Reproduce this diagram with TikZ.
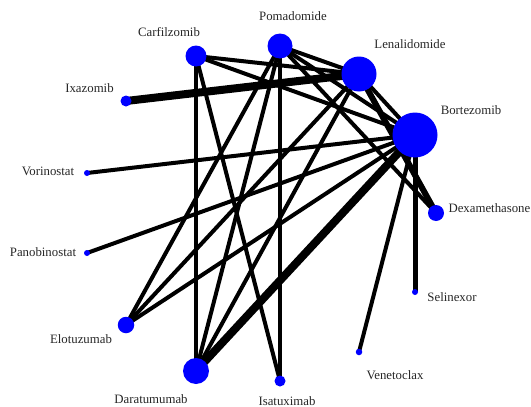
\documentclass[tikz,border=0pt]{standalone}
\usepackage{fontspec}
\setmainfont{Liberation Serif}
\usetikzlibrary{backgrounds}
\begin{document}
\begin{tikzpicture}[x=1pt,y=-1pt,
  drug/.style={circle,fill=blue,inner sep=0pt,minimum size=#1},
  lbl/.style={inner sep=0pt,text=black!85,font=\fontsize{12.8}{15}\selectfont},
  edge/.style={line width=4pt,black},
  thickedge/.style={line width=#1,black}]
\useasboundingbox (0,0) rectangle (531,407);
% nodes (diameters in px)
\node[drug=21pt] (car) at (196,56) {};
\node[drug=11pt] (ixa) at (126,101) {};
\node[drug=6pt]  (vor) at (87,173) {};
\node[drug=25pt] (pom) at (280,46) {};
\node[drug=35pt] (len) at (359,74) {};
\node[drug=45pt] (bor) at (415,135) {};
\node[drug=16pt] (dex) at (436,213) {};
\node[drug=6pt]  (sel) at (415,292) {};
\node[drug=6.5pt] (ven) at (359,352) {};
\node[drug=11pt] (isa) at (280,381) {};
\node[drug=26pt] (dar) at (196,371) {};
\node[drug=16.5pt] (elo) at (126,325) {};
\node[drug=6pt]  (pan) at (87,253) {};
% labels
\node[lbl] (lcar) at (169,32) {Carfilzomib};
\node[lbl] (lixa) at (89.5,88) {Ixazomib};
\node[lbl] (lvor) at (48,171) {Vorinostat};
\node[lbl] (lpom) at (293,16) {Pomadomide};
\node[lbl] (llen) at (410,44) {Lenalidomide};
\node[lbl] (lbor) at (471,110) {Bortezomib};
\node[lbl,anchor=east] (ldex) at (530.5,208) {Dexamethasone};
\node[lbl] (lsel) at (452,297) {Selinexor};
\node[lbl] (lven) at (395,375) {Venetoclax};
\node[lbl] (lisa) at (287,401) {Isatuximab};
\node[lbl] (ldar) at (151,399) {Daratumumab};
\node[lbl] (lelo) at (81,339) {Elotuzumab};
\node[lbl] (lpan) at (43,252) {Panobinostat};
% edges
\begin{scope}[on background layer]
\draw[edge] (car.center) -- (len.center);
\draw[edge] (car.center) -- (bor.center);
\draw[edge] (car.center) -- (dar.center);
\draw[edge] (car.center) -- (isa.center);
\draw[thickedge=8pt] (ixa.center) -- (len.center);
\draw[edge] (vor.center) -- (bor.center);
\draw[edge] (pan.center) -- (bor.center);
\draw[edge] (elo.center) -- (pom.center);
\draw[edge] (elo.center) -- (len.center);
\draw[edge] (elo.center) -- (bor.center);
\draw[edge] (dar.center) -- (pom.center);
\draw[edge] (dar.center) -- (len.center);
\draw[thickedge=8pt] (dar.center) -- (bor.center);
\draw[edge] (isa.center) -- (pom.center);
\draw[edge] (pom.center) -- (len.center);
\draw[edge] (pom.center) -- (bor.center);
\draw[edge] (pom.center) -- (dex.center);
\draw[edge] (len.center) -- (bor.center);
\draw[thickedge=6pt] (len.center) -- (dex.center);
\draw[thickedge=5pt] (bor.center) -- (sel.center);
\draw[edge] (bor.center) -- (ven.center);
\end{scope}
\end{tikzpicture}
\end{document}
